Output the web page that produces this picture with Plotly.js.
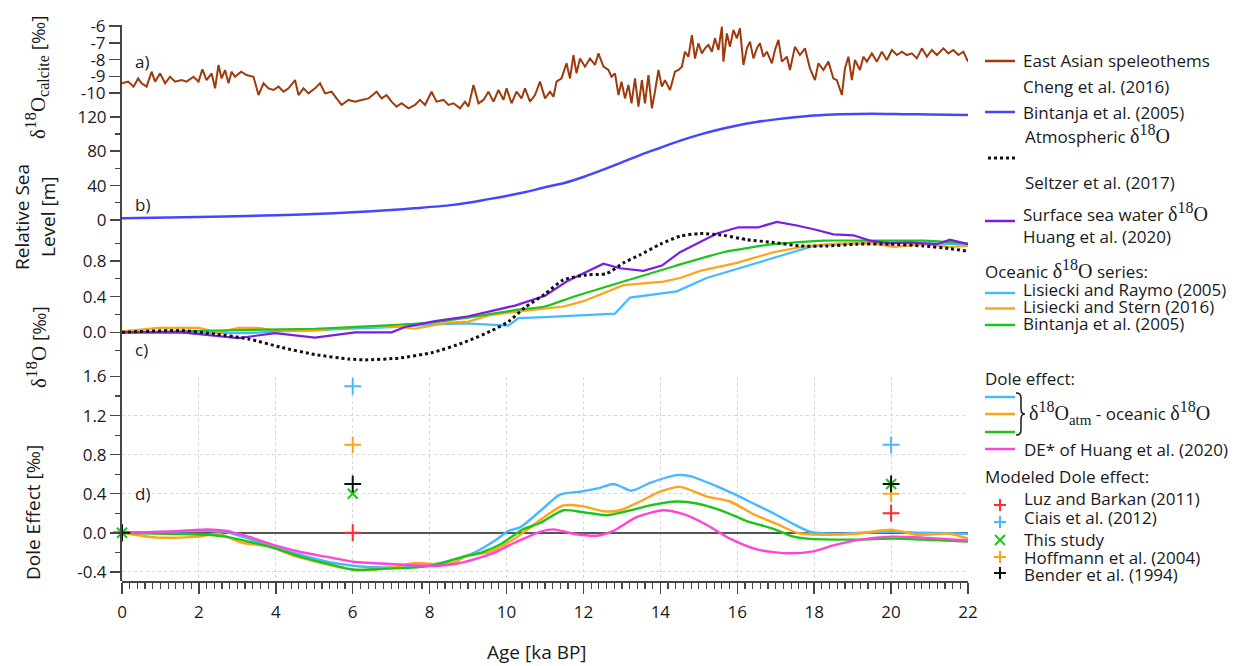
<!DOCTYPE html>
<html><head><meta charset="utf-8">
<script src="https://cdn.plot.ly/plotly-3.0.1.min.js"></script>
<style>html,body{margin:0;padding:0;background:#fff}#chart{width:1242px;height:666px}</style>
</head><body><div id="chart"></div>
<script>
// ---------- DATA ----------
// a) East Asian speleothems (Cheng et al. 2016), d18O calcite [permil]
const speleoAge = [0,0.16,0.30,0.42,0.51,0.64,0.77,0.86,0.99,1.12,
1.25,1.38,1.55,1.68,1.86,1.99,2.09,2.20,2.33,2.42,
2.51,2.59,2.68,2.77,2.85,2.94,3.10,3.24,3.42,3.55,
3.68,3.81,3.94,4.07,4.20,4.33,4.50,4.59,4.72,4.85,
5.02,5.15,5.28,5.45,5.58,5.71,5.89,6.06,6.23,6.41,
6.62,6.75,6.88,7.01,7.14,7.27,7.45,7.62,7.75,7.88,
8.05,8.18,8.36,8.49,8.62,8.79,8.92,9.01,9.14,9.27,
9.40,9.53,9.66,9.79,9.92,10.00,10.13,10.26,10.39,10.48,
10.61,10.74,10.87,
11.00,11.13,11.22,11.30,11.43,11.56,11.65,11.74,11.82,11.91,
12.04,12.17,12.30,12.39,12.52,12.65,12.73,12.82,12.91,12.99,
13.08,13.17,13.25,13.34,13.43,13.52,13.60,13.69,13.78,13.86,
13.95,14.04,14.12,14.25,14.38,14.47,14.56,14.64,14.73,14.82,
14.90,14.99,15.08,15.16,15.25,15.34,15.42,15.51,15.60,15.64,
15.73,15.81,15.90,15.99,16.07,16.16,16.25,16.33,16.42,16.51,
16.59,16.68,16.77,16.90,16.98,17.07,17.16,17.29,17.37,17.50,
17.63,17.76,17.89,18.02,18.11,18.24,18.37,18.50,18.59,18.72,
18.80,18.89,18.98,19.06,19.19,19.28,19.37,19.50,19.63,19.76,
19.89,20.02,20.15,20.28,20.41,20.54,20.67,20.80,20.93,21.06,
21.19,21.36,21.49,21.62,21.75,21.88,22.0];
const speleoD18O = [-9.41,-9.31,-9.61,-9.12,-9.41,-9.61,-8.72,-9.31,-8.82,-9.41,
-9.02,-9.31,-9.22,-9.31,-9.02,-9.31,-8.58,-9.22,-8.82,-9.71,
-8.32,-9.12,-8.62,-9.41,-8.72,-9.02,-8.72,-8.92,-9.02,-10.11,
-9.41,-9.71,-9.81,-9.61,-9.91,-9.71,-9.22,-10.11,-9.71,-10.01,
-9.71,-9.41,-10.01,-9.91,-10.31,-10.70,-10.40,-10.50,-10.40,-10.31,
-9.91,-10.31,-10.11,-10.50,-10.80,-10.60,-10.90,-10.70,-10.40,-10.70,
-9.91,-10.50,-10.40,-10.70,-10.60,-10.90,-10.50,-10.80,-9.51,-10.60,
-10.40,-9.91,-10.50,-9.81,-10.40,-9.71,-10.60,-9.91,-10.31,-9.71,
-10.50,-10.11,-9.31,
-10.31,-9.91,-10.21,-9.31,-9.12,-8.22,-9.12,-7.73,-8.82,-7.93,
-8.42,-7.93,-8.32,-7.63,-8.42,-8.62,-9.02,-8.82,-10.11,-9.31,
-10.31,-9.51,-10.60,-9.12,-10.80,-9.22,-10.60,-8.92,-10.90,-9.91,
-8.62,-9.61,-9.22,-9.81,-8.72,-8.62,-8.42,-7.53,-7.83,-6.54,
-7.93,-7.03,-7.63,-7.33,-7.13,-7.53,-6.73,-7.43,-6.04,-8.12,
-6.44,-7.23,-6.24,-6.73,-6.14,-8.32,-7.33,-6.93,-7.93,-7.33,
-7.03,-7.83,-7.53,-8.22,-7.43,-6.83,-8.12,-7.83,-8.62,-7.23,
-7.73,-7.33,-8.52,-9.22,-8.22,-8.62,-8.12,-9.12,-9.22,-10.11,
-8.52,-7.83,-9.22,-8.02,-8.62,-7.83,-8.12,-7.63,-8.12,-7.53,
-8.02,-7.43,-7.73,-7.53,-7.73,-7.63,-7.93,-7.33,-7.83,-7.43,
-7.73,-7.33,-7.63,-7.43,-7.73,-7.53,-8.12];

// b) Relative sea level, Bintanja et al. (2005) [m]
const rslAge = [0,2,4,5,6,7,7.6,8.5,9,9.5,10,10.5,11,11.5,12,12.6,13,13.5,14,14.5,15,15.5,16,16.5,17,17.5,18,18.7,19.5,20.4,21,22];
const rslVal = [2,3.5,5.5,7,9,11.5,13.6,17,20,24,28,32.5,38,43,50,60,67,76,84,92,99,105,110,114,117,119.5,121.5,123,123.6,123,122.8,122];

// c) d18O series [permil]
const lr05Age = [0,2.42,3.29,3.98,5.02,5.89,7.19,8.05,8.92,10.05,10.31,11.0,12.82,13.21,14.43,15.2,16.07,16.94,17.98,19.11,19.97,20.84,22.0];
const lr05Val = [0,-0.01,-0.01,0.01,0.02,0.04,0.06,0.09,0.10,0.075,0.16,0.17,0.21,0.39,0.46,0.61,0.72,0.83,0.97,1.00,1.01,1.00,0.99];
const ls16Age = [0,0.95,1.99,2.51,3.03,3.55,3.98,5.02,6.06,7.19,7.62,8.49,9.01,9.53,10.22,11.0,11.48,12.0,13.04,14.08,14.51,15.03,15.99,16.94,17.81,18.67,19.54,20.06,20.84,21.53,22.0];
const ls16Val = [0.01,0.05,0.05,0.0,0.05,0.05,0.02,0.02,0.06,0.06,0.04,0.11,0.12,0.19,0.23,0.27,0.29,0.35,0.53,0.57,0.61,0.69,0.78,0.90,0.97,1.00,1.00,0.96,0.99,0.96,0.97];
const binOcAge = [0,2.42,5.02,6.75,8.05,9.36,10.22,11.0,11.74,13.04,14.34,15.64,16.94,18.24,19.54,20.84,22.0];
const binOcVal = [0,0.02,0.04,0.075,0.11,0.19,0.25,0.29,0.40,0.57,0.74,0.90,0.99,1.03,1.03,1.03,1.00];
const atmAge = [0,1.55,2.42,3.29,4.15,5.02,5.89,6.32,7.19,8.05,8.92,9.62,10.05,10.48,11.0,11.48,12.08,12.6,13.04,13.47,14.0,14.51,15.03,15.64,16.25,16.94,17.63,18.33,19.11,19.97,20.84,21.53,22.0];
const atmVal = [0,0.02,-0.02,-0.075,-0.17,-0.25,-0.30,-0.31,-0.29,-0.23,-0.11,0.02,0.12,0.28,0.43,0.59,0.645,0.66,0.78,0.87,0.99,1.08,1.11,1.09,1.04,1.01,0.97,0.97,0.99,0.99,0.97,0.94,0.91];
const seaAge = [0,1.55,2.07,3.03,3.98,5.02,6.06,7.01,7.36,8.14,9.01,9.53,10.22,11.0,11.56,12.52,12.95,13.56,14.04,14.51,15.03,15.47,16.03,16.55,17.03,17.55,18.07,18.5,19.02,19.45,19.97,20.49,20.84,21.19,21.53,22.0];
const seaVal = [0,0,-0.025,-0.065,-0.01,-0.06,0,0,0.06,0.125,0.18,0.23,0.30,0.41,0.57,0.77,0.72,0.69,0.75,0.90,1.01,1.11,1.18,1.18,1.24,1.20,1.15,1.10,1.09,1.03,1.00,1.01,1.00,0.99,1.04,0.99];

// d) Dole effect [permil]
const deLR05Age = [0,1.12,2.25,2.68,3.29,3.98,4.67,5.37,6.06,6.75,7.45,8.14,8.66,9.18,9.70,10.05,10.35,10.87,11.39,11.91,12.43,12.78,12.99,13.25,13.73,14.43,14.77,15.38,15.9,16.42,16.94,17.46,17.89,18.5,19.19,20.03,20.84,22.0];
const deLR05Val = [0,0.01,0.02,0.01,-0.06,-0.15,-0.23,-0.30,-0.34,-0.355,-0.35,-0.32,-0.27,-0.20,-0.08,0.02,0.055,0.22,0.39,0.42,0.46,0.50,0.47,0.43,0.51,0.59,0.58,0.49,0.40,0.30,0.20,0.09,0.01,-0.01,0.0,0.01,0.0,-0.01];
const deLS16Age = [0,0.95,1.99,2.51,3.11,3.81,4.5,5.19,5.89,6.41,7.1,7.62,8.14,8.66,9.01,9.53,10.05,10.57,10.87,11.48,12.0,12.52,12.95,13.47,13.99,14.51,15.21,15.81,16.42,17.03,17.55,18.24,19.11,20.03,20.67,21.53,22.0];
const deLS16Val = [0,-0.05,-0.04,-0.01,-0.10,-0.14,-0.24,-0.31,-0.37,-0.38,-0.35,-0.31,-0.32,-0.30,-0.23,-0.20,-0.10,0.04,0.13,0.28,0.27,0.22,0.23,0.32,0.42,0.47,0.37,0.32,0.19,0.09,0.0,-0.02,-0.01,0.03,-0.02,-0.01,-0.06];
const deBinAge = [0,1.12,2.25,2.68,3.29,3.98,4.67,5.37,6.06,6.75,7.45,8.14,8.84,9.36,9.88,10.4,10.87,11.48,12.0,12.6,13.12,13.73,14.43,14.95,15.64,16.25,16.94,17.46,17.81,19.11,20.03,20.84,22.0];
const deBinVal = [0,-0.01,-0.02,-0.04,-0.09,-0.16,-0.25,-0.32,-0.38,-0.37,-0.36,-0.33,-0.25,-0.20,-0.11,0.03,0.10,0.23,0.21,0.18,0.22,0.28,0.32,0.30,0.22,0.12,0.04,-0.04,-0.06,-0.07,-0.06,-0.07,-0.09];
const deHuangAge = [0,1.12,2.25,2.68,3.29,3.98,4.67,5.37,6.06,6.75,7.45,8.14,8.66,9.18,9.70,10.22,10.87,11.22,11.74,12.34,12.78,13.38,14.08,14.6,15.21,15.81,16.51,17.29,17.98,18.5,19.19,20.03,20.84,22.0];
const deHuangVal = [0,0.01,0.035,0.02,-0.04,-0.13,-0.20,-0.25,-0.30,-0.315,-0.33,-0.34,-0.32,-0.27,-0.20,-0.10,0.01,0.035,-0.01,-0.03,0.02,0.16,0.23,0.19,0.08,-0.06,-0.17,-0.21,-0.19,-0.13,-0.07,-0.04,-0.05,-0.08];

// modeled Dole effect
const modelAge = [0,6,20];
const luzVal = [0,0,0.2];
const ciaisVal = [0,1.5,0.9];
const thisStudyVal = [0,0.4,0.5];
const hoffmannVal = [0,0.9,0.4];
const benderVal = [0,0.5,0.5];

// tick labels
const xTickVals = [0,2,4,6,8,10,12,14,16,18,20,22];
const xTickText = ['0','2','4','6','8','10','12','14','16','18','20','22'];
const aTickVals = [-6,-7,-8,-9,-10];
const aTickText = ['-6','-7','-8','-9','-10'];
const bTickVals = [0,40,80,120];
const bTickText = ['0','40','80','120'];
const bMinor = [20,60,100];
const cTickVals = [0,0.4,0.8];
const cTickText = ['0.0','0.4','0.8'];
const cMinor = [-0.2,0.2,0.6,1.0];
const dTickVals = [-0.4,0,0.4,0.8,1.2,1.6];
const dTickText = ['-0.4','0.0','0.4','0.8','1.2','1.6'];
const dMinor = [-0.2,0.2,0.6,1.0,1.4];

// ---------- STYLE / LAYOUT ----------
const C = {brown:'#9e3a0e', blue:'#4646ff', purple:'#7a1ee0', lblue:'#46b9ff', orange:'#ffa31a',
  green:'#1cc41c', magenta:'#ff45d4', red:'#ff2a2a', black:'#111111'};
const PL=122, PR=968, PT=25, PB=581;
function X(p){return (p-PL)/(PR-PL);}
function Y(p){return (PB-p)/(PB-PT);}
// axis ranges matched to the pixel scales of each stacked panel
function rng(v0,p0,s){return [v0-(PB-p0)/s, v0+(p0-PT)/s];}
const rA = rng(-6,26,16.8), rB = rng(0,220,0.86), rC = rng(0,332.3,89);
const dTop = 376.5;

const FONT = 'Open Sans, Liberation Sans, sans-serif';
const SERIF = "Liberation Serif, DejaVu Serif, serif";
const tickFont = {family:FONT, size:17, color:'#1a1a1a'};
const AX = '#454545';
function math(sub, sz){
  sz = sz||20;
  return '<span style="font-family:'+SERIF+';font-size:'+sz+'px">δ<sup><span style="font-size:'+Math.round(sz*0.8)+'px">18</span></sup>O'+
    (sub?'<sub><span style="font-size:'+Math.round(sz*0.75)+'px">'+sub+'</span></sub>':'')+'</span>';
}

const traces = [
  {x:speleoAge, y:speleoD18O, xaxis:'x2', yaxis:'y', mode:'lines', line:{color:C.brown, width:2}},
  {x:rslAge, y:rslVal, xaxis:'x2', yaxis:'y2', mode:'lines', line:{color:C.blue, width:2.5, shape:'spline', smoothing:0.6}},
  {x:lr05Age, y:lr05Val, xaxis:'x2', yaxis:'y3', mode:'lines', line:{color:C.lblue, width:2.2}},
  {x:ls16Age, y:ls16Val, xaxis:'x2', yaxis:'y3', mode:'lines', line:{color:C.orange, width:2.2}},
  {x:binOcAge, y:binOcVal, xaxis:'x2', yaxis:'y3', mode:'lines', line:{color:C.green, width:2.2, shape:'spline', smoothing:0.5}},
  {x:seaAge, y:seaVal, xaxis:'x2', yaxis:'y3', mode:'lines', line:{color:C.purple, width:2.2}},
  {x:atmAge, y:atmVal, xaxis:'x2', yaxis:'y3', mode:'lines', line:{color:C.black, width:3, dash:'dot', shape:'spline', smoothing:0.6}},
  {x:deLR05Age, y:deLR05Val, xaxis:'x', yaxis:'y4', mode:'lines', line:{color:C.lblue, width:2.4, shape:'spline', smoothing:0.7}},
  {x:deLS16Age, y:deLS16Val, xaxis:'x', yaxis:'y4', mode:'lines', line:{color:C.orange, width:2.4, shape:'spline', smoothing:0.7}},
  {x:deBinAge, y:deBinVal, xaxis:'x', yaxis:'y4', mode:'lines', line:{color:C.green, width:2.4, shape:'spline', smoothing:0.7}},
  {x:deHuangAge, y:deHuangVal, xaxis:'x', yaxis:'y4', mode:'lines', line:{color:C.magenta, width:2.4, shape:'spline', smoothing:0.7}},
];
function mk(vals, color, sym, size){
  return {x:modelAge, y:vals, xaxis:'x', yaxis:'y4', mode:'markers', cliponaxis:false,
    marker:{symbol:sym, size:size, color:color, line:{color:color, width:2}}};
}
traces.push(mk(luzVal, C.red, 'cross-thin-open', 12));
traces.push(mk(ciaisVal, C.lblue, 'cross-thin-open', 12));
traces.push(mk(thisStudyVal, C.green, 'x-thin-open', 10));
traces.push(mk(hoffmannVal, C.orange, 'cross-thin-open', 12));
traces.push(mk(benderVal, C.black, 'cross-thin-open', 12));

// legend (drawn manually)
const shapes = [];
const ann = [];
function legLine(x0,x1,y,color,dash,w){
  shapes.push({type:'line', xref:'paper', yref:'paper', x0:X(x0), x1:X(x1), y0:Y(y), y1:Y(y),
    line:{color:color, width:w||2.5, dash:dash||'solid'}});
}
function txt(x,y,t,size,anchor){
  ann.push({xref:'paper', yref:'paper', x:X(x), y:Y(y), text:t, showarrow:false,
    xanchor:anchor||'left', yanchor:'middle', font:{family:FONT, size:size||17, color:'#1a1a1a'}});
}
function plus(x,y,color){
  shapes.push({type:'line', xref:'paper', yref:'paper', x0:X(x-6), x1:X(x+6), y0:Y(y), y1:Y(y), line:{color:color,width:2}});
  shapes.push({type:'line', xref:'paper', yref:'paper', x0:X(x), x1:X(x), y0:Y(y-6), y1:Y(y+6), line:{color:color,width:2}});
}
function cross(x,y,color){
  shapes.push({type:'line', xref:'paper', yref:'paper', x0:X(x-5), x1:X(x+5), y0:Y(y-5), y1:Y(y+5), line:{color:color,width:2}});
  shapes.push({type:'line', xref:'paper', yref:'paper', x0:X(x-5), x1:X(x+5), y0:Y(y+5), y1:Y(y-5), line:{color:color,width:2}});
}
legLine(985,1015,61,C.brown);
txt(1021,60,'East Asian speleothems'); txt(1021,86,'Cheng et al. (2016)');
legLine(985,1015,112,C.blue);
txt(1021,112,'Bintanja et al. (2005)');
legLine(988,1017,158,C.black,'dot',3);
txt(1023,134,'Atmospheric '+math('',20)); txt(1023,182,'Seltzer et al. (2017)');
legLine(985,1015,221,C.purple);
txt(1021,212,'Surface sea water '+math('',20)); txt(1021,237,'Huang et al. (2020)');
txt(983,269,'Oceanic '+math('',20)+' series:');
legLine(985,1015,293,C.lblue); txt(1021,289,'Lisiecki and Raymo (2005)');
legLine(985,1015,308.5,C.orange); txt(1021,306,'Lisiecki and Stern (2016)');
legLine(985,1015,325,C.green); txt(1021,323.5,'Bintanja et al. (2005)');

txt(983,378,'Dole effect:');
legLine(985,1015,397,C.lblue); legLine(985,1015,414,C.orange); legLine(985,1015,432,C.green);
const br = 'M '+X(1016)+','+Y(393)+' Q '+X(1021)+','+Y(393)+' '+X(1021)+','+Y(398)+' L '+X(1021)+','+Y(409)+
  ' Q '+X(1021)+','+Y(414)+' '+X(1025)+','+Y(414)+' Q '+X(1021)+','+Y(414)+' '+X(1021)+','+Y(419)+
  ' L '+X(1021)+','+Y(430)+' Q '+X(1021)+','+Y(435)+' '+X(1016)+','+Y(435);
shapes.push({type:'path', xref:'paper', yref:'paper', path:br, line:{color:'#1a1a1a', width:1.5}});
txt(1027,413,math('atm',20)+' - oceanic '+math('',20));
legLine(985,1015,449,C.magenta); txt(1022,449,'DE* of Huang et al. (2020)');
txt(983,476,'Modeled Dole effect:');
plus(1000,505,C.red); txt(1022,498.5,'Luz and Barkan (2011)');
plus(1000,522,C.lblue); txt(1022,517,'Ciais et al. (2012)');
cross(1000,540,C.green); txt(1022,539,'This study');
plus(1000,557,C.orange); txt(1022,557,'Hoffmann et al. (2004)');
plus(1000,573,C.black); txt(1022,574.5,'Bender et al. (1994)');

// panel labels
txt(133,61,'a)'); txt(133,204,'b)'); txt(133,350,'c)'); txt(133,493,'d)');

// axis titles
function vt(x,y,t,size){
  ann.push({xref:'paper', yref:'paper', x:X(x), y:Y(y), text:t, showarrow:false, textangle:-90,
    xanchor:'center', yanchor:'middle', font:{family:FONT, size:size||19, color:'#1a1a1a'}});
}
vt(37,78,math('calcite',21)+' [‰]');
vt(22,217,'Relative Sea'); vt(48,217,'Level [m]');
vt(37,347,math('',21)+' [‰]');
vt(33,513,'Dole Effect [‰]');
txt(537,652,'Age [ka BP]',19,'center');

const baseY = {showline:false, ticks:'outside', ticklen:11, tickwidth:1.5, tickcolor:AX, tickmode:'array',
  showgrid:false, zeroline:false, tickfont:tickFont, fixedrange:true};
const layout = {
  width:1242, height:666, margin:{l:PL, r:1242-PR, t:PT, b:666-PB},
  paper_bgcolor:'#ffffff', plot_bgcolor:'rgba(0,0,0,0)', showlegend:false,
  xaxis:{domain:[0,1], range:[0,22], anchor:'y4', showline:true, linecolor:AX, linewidth:2,
    ticks:'outside', ticklen:11, tickwidth:1.5, tickcolor:AX, tickmode:'array', tickvals:xTickVals, ticktext:xTickText,
    minor:{tickmode:'linear', tick0:0, dtick:0.2, ticks:'outside', ticklen:6, tickwidth:1.2, tickcolor:AX, showgrid:false},
    showgrid:true, gridcolor:'#d6d6d6', griddash:'dot', gridwidth:1, zeroline:false, tickfont:tickFont, ticklabelstandoff:4},
  xaxis2:{domain:[0,1], range:[0,22], anchor:'y', visible:false, showgrid:false, zeroline:false},
  yaxis:Object.assign({}, baseY, {domain:[0,1], anchor:'x2', range:rA, tickvals:aTickVals, ticktext:aTickText,
    showline:true, linecolor:AX, linewidth:2}),
  yaxis2:Object.assign({}, baseY, {overlaying:'y', anchor:'x2', side:'left', range:rB, tickvals:bTickVals, ticktext:bTickText,
    minor:{tickmode:'array', tickvals:bMinor, ticks:'outside', ticklen:6, tickwidth:1.2, tickcolor:AX, showgrid:false}}),
  yaxis3:Object.assign({}, baseY, {overlaying:'y', anchor:'x2', side:'left', range:rC, tickvals:cTickVals, ticktext:cTickText,
    minor:{tickmode:'array', tickvals:cMinor, ticks:'outside', ticklen:6, tickwidth:1.2, tickcolor:AX, showgrid:false}}),
  yaxis4:Object.assign({}, baseY, {domain:[0, Y(dTop)], anchor:'x', range:[-0.494,1.6], tickvals:dTickVals, ticktext:dTickText,
    minor:{tickmode:'array', tickvals:dMinor, ticks:'outside', ticklen:6, tickwidth:1.2, tickcolor:AX, showgrid:false},
    showgrid:true, gridcolor:'#d6d6d6', griddash:'dot', gridwidth:1,
    zeroline:true, zerolinecolor:'#555555', zerolinewidth:2}),
  shapes:shapes, annotations:ann
};
Plotly.newPlot('chart', traces, layout, {displayModeBar:false, staticPlot:true});
</script></body></html>
